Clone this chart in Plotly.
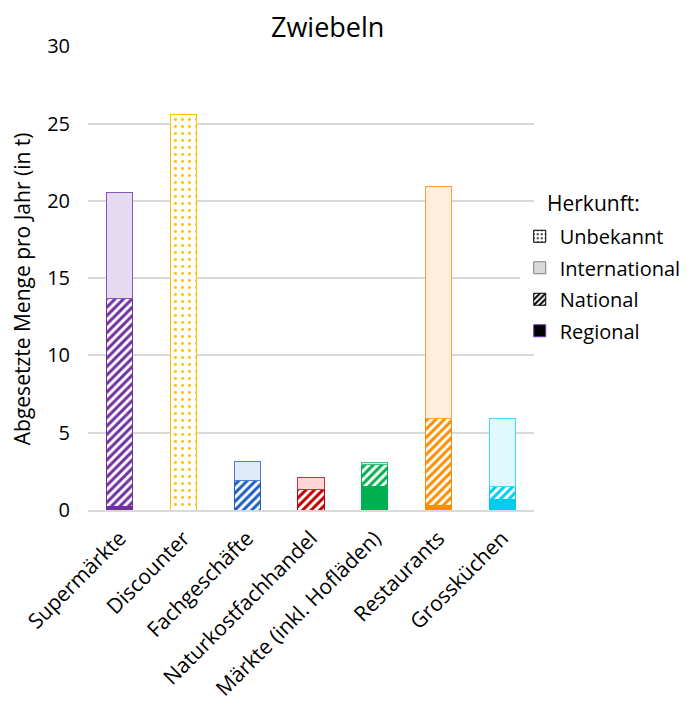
import plotly.graph_objects as go

categories = ["Supermärkte", "Discounter", "Fachgeschäfte", "Naturkostfachhandel",
              "Märkte (inkl. Hofläden)", "Restaurants", "Grossküchen"]
regional = [0.2, 0, 0, 0, 1.5, 0.3, 0.7]
national = [13.5, 0, 1.9, 1.3, 1.45, 5.65, 0.8]
international = [6.85, 0, 1.25, 0.8, 0.1, 15.0, 4.45]
unbekannt = [0, 25.6, 0, 0, 0, 0, 0]

main_colors = ["#7030A0", "#FFC000", "#1F5FC0", "#C00000", "#00B050", "#FF8C00", "#00CCEE"]
light_colors = ["#E6D9F2", "#FFF2CC", "#DDEBFB", "#FFD5D5", "#D5F5E3", "#FFEEDD", "#E0F9FF"]
border_colors = ["#8A55B8", "#FFC000", "#4A7FD0", "#D03030", "#40C080", "#FFA030", "#40DDF5"]

font = "Open Sans, sans-serif"

fig = go.Figure()
fig.add_trace(go.Bar(x=categories, y=regional, name="Regional", showlegend=False,
                     marker=dict(color=main_colors, line=dict(color=main_colors, width=1))))
fig.add_trace(go.Bar(x=categories, y=national, name="National", showlegend=False,
                     marker=dict(color="white", line=dict(color=main_colors, width=1),
                                 pattern=dict(shape="/", fgcolor=main_colors, bgcolor="white",
                                              size=6, solidity=0.5, fillmode="replace"))))
fig.add_trace(go.Bar(x=categories, y=international, name="International", showlegend=False,
                     marker=dict(color=light_colors, line=dict(color=border_colors, width=1))))
fig.add_trace(go.Bar(x=categories, y=unbekannt, name="Unbekannt", showlegend=False,
                     marker=dict(color="white", line=dict(color=border_colors, width=1),
                                 pattern=dict(shape=".", fgcolor=main_colors, bgcolor="white",
                                              size=7, solidity=0.14, fillmode="replace"))))

# legend-only entries (display order)
fig.add_trace(go.Bar(x=[categories[0]], y=[None], name="Unbekannt", legendgroup="u",
                     marker=dict(color="white", line=dict(color="black", width=1),
                                 pattern=dict(shape=".", fgcolor="black", bgcolor="white",
                                              size=5, solidity=0.2, fillmode="replace"))))
fig.add_trace(go.Bar(x=[categories[0]], y=[None], name="International", legendgroup="i",
                     marker=dict(color="#D9D9D9", line=dict(color="#7F7F7F", width=1))))
fig.add_trace(go.Bar(x=[categories[0]], y=[None], name="National", legendgroup="n",
                     marker=dict(color="white", line=dict(color="black", width=1),
                                 pattern=dict(shape="/", fgcolor="black", bgcolor="white",
                                              size=5, solidity=0.5, fillmode="replace"))))
fig.add_trace(go.Bar(x=[categories[0]], y=[None], name="Regional", legendgroup="r",
                     marker=dict(color="black", line=dict(color="#7030A0", width=1))))

fig.update_layout(
    barmode="stack",
    bargap=0.59,
    width=691, height=702,
    margin=dict(l=80, r=165, t=38, b=200, autoexpand=False),
    plot_bgcolor="white", paper_bgcolor="white",
    font=dict(family=font, size=19, color="black"),
    yaxis=dict(range=[0, 30.03], tickvals=[0, 5, 10, 15, 20, 25, 30], showgrid=True,
               gridcolor="#D9D9D9", gridwidth=1.5, ticklabelstandoff=17, automargin=False,
               zeroline=False, ticks="", tickfont=dict(size=20)),
    xaxis=dict(tickangle=-45, tickfont=dict(size=21), showline=True, linecolor="#D9D9D9",
               linewidth=1.5, ticks="", ticklabelstandoff=6, automargin=False),
    legend=dict(traceorder="grouped", x=0.968, xanchor="left", y=0.632, yanchor="top",
                font=dict(size=20), itemwidth=30, tracegroupgap=2.5),
    annotations=[
        dict(text="Zwiebeln", xref="paper", yref="paper", x=0.538, y=1.042,
             xanchor="center", yanchor="middle", showarrow=False,
             font=dict(size=27, family=font)),
        dict(text="Abgesetzte Menge pro Jahr (in t)", xref="paper", yref="paper",
             x=-0.148, y=0.478, xanchor="center", yanchor="middle", textangle=-90,
             showarrow=False, font=dict(size=21, family=font)),
        dict(text="Herkunft:", xref="paper", yref="paper", x=1.024, y=0.662,
             xanchor="left", yanchor="middle", showarrow=False,
             font=dict(size=21, family=font)),
    ],
)

fig.write_html("out.html")
